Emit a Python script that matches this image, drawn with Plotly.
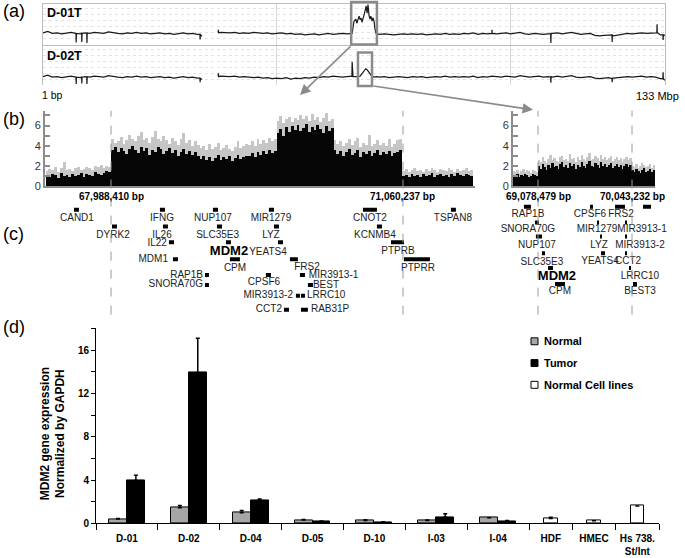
import plotly.graph_objects as go

W, H = 685, 558
FONT = "Arial, Liberation Sans, sans-serif"

# ---------------- (a) chromosome 12 copy-number tracks (Mbp, 1 Mbp steps) ----------------
T1_VALS = [2.3, 2.6, 2.2, 2.3, 2.1, 2.2, 2.4, 2.2, 2.1, 2.3,
           2.2, 2.4, 2.3, 2.2, 2.5, 2.3, 2.2, 2.1, 2.3, 2.2,
           2.4, 2.2, 2.3, 2.1, 2.2, 2.3, 2.1, 2.2, 2.0, 2.2,
           2.3, 2.1, 2.2, 2.0, 1.6, None, None, None, 2.4, 2.3,
           2.3, 2.4, 2.2, 2.3, 2.2, 2.4, 2.3, 2.2, 2.3, 2.1,
           2.2, 2.3, 2.1, 2.2, 2.0, 2.1, 1.9, 2.0, 2.1, 1.9,
           2.1, 2.2, 2.0, 2.1, 2.2, 2.1, 2.1, 2.1, 2.1, 2.1,
           2.1, 2.1, 2.0, 2.1, 2.0, 1.9, 2.0, 2.1, 2.0, 2.1,
           2.0, 2.1, 1.9, 2.0, 2.1, 2.0, 2.2, 2.0, 2.1, 2.0,
           2.2, 2.1, 2.3, 2.0, 2.2, 2.1, 2.4, 2.1, 2.2, 2.3,
           2.1, 2.2, 2.4, 2.1, 2.0, 2.2, 2.1, 2.0, 2.1, 2.2,
           2.3, 2.1, 2.2, 2.4, 2.2, 2.0, 2.1, 2.2, 1.8, 1.7,
           1.8, 1.9, 1.7, 1.9, 2.0, 2.2, 2.1, 2.2, 2.3, 2.2,
           2.3, 2.4, 1.9, 1.8]
T1_AMP_POS = [65.9, 66.1, 66.5, 66.9, 67.1, 67.35, 67.6, 67.8, 68.0, 68.2, 68.4, 68.65,
              68.85, 69.1, 69.3, 69.5, 69.7, 69.9, 70.1, 70.35, 70.55, 70.8, 71.0, 71.2, 71.5]
T1_AMP_VALS = [2.1, 2.2, 4.6, 5.0, 4.2, 4.8, 5.6, 4.9, 5.2, 4.4, 4.9, 5.8,
               6.6, 7.6, 6.2, 7.9, 5.8, 5.0, 5.6, 4.6, 5.3, 4.5, 3.0, 2.2, 2.1]
T1_SPIKE_POS = [7.05, 7.1, 7.15, 8.25, 8.3, 8.35, 9.35, 9.4, 9.45, 33.55, 33.6, 33.65,
                37.45, 37.5, 37.55, 95.95, 96.0, 96.05, 108.55, 108.6, 108.65, 121.65, 121.7, 121.75,
                131.25, 131.3, 131.35, 132.55, 132.6, 132.65]
T1_SPIKE_VALS = [2.2, 0.4, 2.2, 2.3, 0.5, 2.2, 2.2, 0.3, 2.3, 2.0, 1.0, 2.0,
                 2.4, 2.9, 2.3, 2.2, 2.9, 2.2, 2.1, 0.3, 2.2, 1.9, 0.5, 1.9,
                 2.3, 4.0, 2.4, 1.9, 0.9, 1.9]

T2_VALS = [1.7, 2.0, 1.6, 1.7, 1.5, 1.6, 1.8, 1.6, 1.5, 1.7,
           1.6, 1.8, 1.7, 1.6, 1.9, 1.7, 1.6, 1.5, 1.7, 1.6,
           1.8, 1.6, 1.7, 1.5, 1.6, 1.7, 1.5, 1.6, 1.4, 1.6,
           1.7, 1.5, 1.6, 1.4, 1.1, None, None, None, 1.8, 1.7,
           1.7, 1.8, 1.6, 1.7, 1.6, 1.5, 1.6, 1.4, 1.5, 1.3,
           1.4, 1.3, 1.5, 1.2, 1.4, 1.3, 1.5, 1.4, 1.6, 1.5,
           1.7, 1.6, 1.8, 1.7, 1.6, 1.7, 1.7, 1.7, 1.7, 1.7,
           1.7, 1.7, 1.6, 1.7, 1.5, 1.6, 1.7, 1.6, 1.5, 1.7,
           1.6, 1.7, 1.5, 1.6, 1.7, 1.6, 1.8, 1.6, 1.7, 1.6,
           1.7, 1.6, 1.8, 1.5, 1.7, 1.6, 1.8, 1.7, 1.6, 1.8,
           1.7, 1.6, 1.9, 1.7, 1.6, 1.7, 1.8, 1.6, 1.7, 1.6,
           1.8, 1.6, 1.7, 1.9, 1.6, 1.5, 1.6, 1.7, 1.4, 1.3,
           1.4, 1.5, 1.4, 1.5, 1.6, 1.7, 1.6, 1.7, 1.8, 1.6,
           1.7, 1.6, 1.3, 1.0]
T2_AMP_POS = [65.9, 66.05, 66.1, 66.15, 66.3, 67.0, 67.8, 68.3, 68.7, 69.0, 69.3, 69.6, 69.9, 70.3, 70.8, 71.3]
T2_AMP_VALS = [1.7, 1.8, 4.7, 1.8, 1.7, 1.7, 1.8, 2.4, 3.0, 3.3, 3.1, 2.7, 2.2, 1.8, 1.6, 1.7]
T2_SPIKE_POS = [7.05, 7.1, 7.15, 8.25, 8.3, 8.35, 9.35, 9.4, 9.45, 33.55, 33.6, 33.65,
                37.45, 37.5, 37.55, 108.55, 108.6, 108.65, 121.65, 121.7, 121.75, 132.55, 132.6, 132.65]
T2_SPIKE_VALS = [1.6, 0.2, 1.6, 1.7, 0.3, 1.6, 1.6, 0.2, 1.7, 1.4, 0.6, 1.4,
                 1.8, 2.4, 1.7, 1.6, 0.5, 1.7, 1.3, 0.6, 1.4, 1.3, 2.6, 1.2]

# ---------------- (b) zoomed copy number, binned ----------------
BL_START, BL_BIN = 67.30, 0.03
BL_BLACK = [1.0, 0.9, 1.2, 1.1, 0.8, 1.3, 1.0, 1.1, 0.9, 1.2, 1.0, 1.1, 1.3, 0.9, 1.2, 1.1, 1.0, 1.4, 1.2, 1.1, 1.3, 1.5, 1.4,
            3.6, 3.9, 3.4, 3.8, 3.5, 3.2, 3.7, 4.0, 3.6, 3.3, 3.9, 3.5, 3.8, 3.1, 3.6, 3.4, 3.9, 3.7, 3.2, 3.5, 3.8, 3.3, 3.6, 3.0, 3.4, 3.7, 3.2, 3.5, 3.1, 3.4, 3.0,
            2.7, 3.0, 2.6, 2.9, 2.5, 2.8, 3.1, 2.6, 2.9, 2.7, 3.0, 2.5, 2.8, 3.1, 2.7, 2.9, 3.0,
            3.0, 3.3, 2.9, 3.4, 3.1, 3.5, 3.2, 3.6, 3.3, 3.5,
            5.2, 5.6, 4.9, 5.8, 5.3, 5.9, 5.5, 6.0, 5.4, 5.7, 6.1, 5.3, 5.8, 5.5, 6.0, 5.6, 5.2, 5.9, 5.4, 5.7,
            3.6, 3.2, 3.5, 3.0, 3.4, 3.7, 3.1, 3.3, 3.6, 2.9, 3.4, 3.2, 3.5, 3.0, 3.3, 3.6, 3.1, 3.4, 3.2, 3.5, 3.0, 3.3, 3.4, 3.6,
            1.0, 1.1, 0.9, 1.2, 1.0, 1.1, 0.9, 1.2, 1.0, 1.1, 1.3, 0.9, 1.1, 1.2, 1.0, 1.1, 0.9, 1.2, 1.0, 1.3, 1.1, 1.0, 1.2, 1.1, 1.0]
BL_GRAY = [1.5, 1.7, 1.6, 1.9, 1.4, 1.8, 2.4, 1.6, 1.7, 1.5, 1.8, 1.9, 1.6, 1.7, 1.9, 1.8, 1.6, 2.0, 1.9, 2.1, 1.8, 2.0, 1.9,
           4.6, 4.3, 4.4, 4.8, 4.2, 4.5, 5.0, 4.6, 4.4, 4.9, 5.3, 4.5, 4.7, 4.3, 4.8, 5.4, 4.6, 4.4, 4.9, 4.5, 4.2, 4.7, 4.4, 4.1, 4.6, 5.2, 4.3, 4.5, 4.0, 4.4, 4.1,
           3.8, 4.0, 3.6, 4.2, 3.7, 3.9, 4.3, 3.6, 3.8, 4.1, 3.7, 3.5, 3.9, 4.4, 3.8, 4.0, 4.2,
           4.1, 4.4, 4.0, 4.6, 4.2, 4.5, 4.3, 4.7, 4.4, 4.6,
           6.4, 6.9, 6.2, 6.6, 6.8, 6.3, 6.7, 6.5, 7.0, 6.6, 6.9, 6.4, 7.1, 6.5, 6.8, 6.3, 6.7, 7.2, 6.4, 6.6,
           4.5, 4.2, 4.4, 4.0, 4.3, 4.6, 4.1, 4.4, 4.7, 3.9, 4.3, 4.1, 5.0, 4.0, 4.2, 4.5, 4.1, 4.3, 4.0, 4.6, 3.9, 4.2, 4.5, 4.6,
           1.5, 1.7, 1.4, 1.6, 1.8, 1.5, 1.6, 1.4, 1.7, 1.5, 1.8, 1.6, 1.4, 1.7, 1.6, 1.5, 1.8, 1.6, 1.4, 1.7, 1.5, 1.6, 1.8, 1.5, 1.6]

BR_START, BR_BIN = 68.82, 0.02
BR_BLACK = [1.1, 1.0, 1.2, 0.9, 1.1, 1.0, 1.2, 1.1, 0.9, 1.0, 1.2, 1.1, 1.0,
            2.0, 1.7, 2.2, 1.9, 1.6, 2.1, 1.8, 2.3, 1.9, 2.0, 1.7, 2.2, 2.4, 1.9, 2.1, 1.8, 2.3, 2.0, 2.2, 1.7, 2.1, 1.9, 2.4, 2.0,
            1.8, 2.2, 2.5, 2.0, 1.9, 2.3, 2.1, 1.8, 2.4, 2.0, 2.2, 1.9, 2.1, 2.3, 1.8, 2.0, 2.2, 1.9, 2.1, 1.7, 2.0, 2.2, 1.9, 2.1,
            1.6, 1.4, 1.7, 1.5, 1.3, 1.6, 1.8, 1.4, 1.5, 1.7, 1.4, 1.6]
BR_GRAY = [1.5, 1.4, 1.6, 1.3, 1.5, 1.7, 1.4, 1.6, 1.5, 1.3, 1.6, 1.5, 1.4,
           2.6, 2.4, 2.9, 2.5, 2.3, 2.7, 3.1, 2.6, 2.8, 2.5, 2.4, 2.9, 3.0, 2.6, 2.7, 2.5, 3.2, 2.7, 2.8, 2.4, 2.9, 2.6, 3.1, 2.7,
           2.5, 2.9, 3.3, 2.6, 2.7, 3.0, 2.8, 2.5, 3.1, 2.7, 2.9, 2.6, 2.8, 3.0, 2.5, 2.7, 2.9, 2.6, 2.8, 2.4, 2.7, 2.9, 2.6, 2.8,
           2.0, 1.9, 2.2, 1.8, 2.0, 2.3, 2.1, 1.9, 2.0, 2.2, 1.8, 2.1]

BL_MARKS = [67.988410, 71.060237]
BR_MARKS = [69.078479, 70.043232]
BL_MARK_TEXT = ["67,988,410 bp", "71,060,237 bp"]
BR_MARK_TEXT = ["69,078,479 bp", "70,043,232 bp"]

# ---------------- (c) genes (Mbp, as drawn) ----------------
CL_GENES = ["CAND1", "DYRK2", "IFNG", "IL26", "IL22", "MDM1", "NUP107", "SLC35E3", "MDM2", "CPM",
            "RAP1B", "SNORA70G", "MIR1279", "LYZ", "YEATS4", "FRS2", "CPSF6", "MIR3913-1", "BEST",
            "MIR3913-2", "LRRC10", "CCT2", "RAB31P", "CNOT2", "KCNMB4", "PTPRB", "PTPRR", "TSPAN8"]
CL_START = [67.599, 67.999, 68.503, 68.535, 68.598, 68.640, 69.061, 69.103, 69.198, 69.240,
            68.977, 68.977, 69.650, 69.703, 69.745, 69.871, 69.618, 69.976, 70.060,
            69.934, 69.987, 69.808, 69.987, 70.639, 70.786, 70.934, 71.071, 71.565]
CL_END = [67.651, 68.051, 68.556, 68.588, 68.651, 68.693, 69.114, 69.156, 69.250, 69.345,
          69.019, 69.019, 69.703, 69.755, 69.798, 69.955, 69.671, 70.029, 70.113,
          69.976, 70.029, 69.861, 70.060, 70.786, 70.839, 71.071, 71.344, 71.617]

CR_GENES = ["RAP1B", "SNORA70G", "NUP107", "SLC35E3", "MDM2", "CPM", "CPSF6", "FRS2", "RAB31P",
            "MIR1279", "MIR3913-1", "LYZ", "MIR3913-2", "YEATS4", "CCT2", "LRRC10", "BEST3"]
CR_START = [68.934, 69.047, 69.057, 69.119, 69.181, 69.253, 69.612, 69.869, 70.156,
            69.684, 69.971, 69.715, 69.971, 69.725, 69.971, 70.012, 70.053]
CR_END = [69.006, 69.088, 69.119, 69.150, 69.232, 69.355, 69.643, 69.971, 70.238,
          69.705, 69.992, 69.735, 69.992, 69.766, 69.992, 70.033, 70.094]

# layout of gene rows / labels (pixel rows, label x in Mbp, anchor c/l/r)
CL_ROW = [212, 229, 212, 229, 245, 262, 212, 229, 245, 262, 278, 288, 212, 229, 245, 262, 278, 278, 288,
          299, 299, 313, 313, 212, 229, 245, 262, 212]
CL_LAB_X = [67.63, 68.01, 68.525, 68.525, 68.577, 68.588, 69.06, 69.11, 69.23, 69.293, 68.956, 68.956,
            69.671, 69.671, 69.64, 70.05, 69.598, 70.07, 70.113, 69.903, 70.05, 69.787, 70.092,
            70.713, 70.765, 71.007, 71.218, 71.586]
CL_LAB_Y = [221, 238, 221, 238, 246, 262, 221, 238, 255, 271, 278, 288, 221, 238, 255, 270, 286, 279, 289,
            299, 299, 313, 313, 221, 238, 254, 271, 221]
CL_ANCHOR = ["c", "c", "c", "c", "r", "r", "c", "c", "c", "c", "r", "r", "c", "c", "c", "c", "c", "l", "l",
             "r", "l", "r", "l", "c", "c", "c", "c", "c"]

CR_ROW = [209, 225, 239, 256, 271, 287, 209, 209, 209, 225, 225, 239, 239, 256, 256, 271, 287]
CR_LAB_X = [68.975, 68.975, 69.068, 69.119, 69.273, 69.304, 69.612, 69.93, 70.30,
            69.684, 70.146, 69.704, 70.125, 69.715, 70.002, 70.125, 70.125]
CR_LAB_Y = [217, 232, 248, 265, 280, 295, 217, 217, 217, 232, 232, 248, 248, 264, 264, 280, 295]

# ---------------- (d) MDM2 expression ----------------
GROUPS = ["D-01", "D-02", "D-04", "D-05", "D-10", "I-03", "I-04", "HDF", "HMEC", "Hs 738.<br>St/Int"]
NORMAL = [0.39, 1.43, 0.97, 0.30, 0.25, 0.27, 0.52]
NORMAL_ERR = [0.06, 0.22, 0.22, 0.06, 0.08, 0.04, 0.0]
TUMOR = [3.96, 13.9, 2.13, 0.18, 0.12, 0.55, 0.21]
TUMOR_ERR = [0.49, 3.2, 0.12, 0.04, 0.03, 0.34, 0.04]
CELL = [0.45, 0.24, 1.61]
CELL_ERR = [0.10, 0.0, 0.0]
GROUP_W = [1, 1, 1, 1, 1, 1, 1, 0.7, 0.7, 0.7]


def dx(a, b):
    return [a / W, b / W]


def dy(top, bottom):
    return [1 - bottom / H, 1 - top / H]


def track(vals, amp_pos, amp_vals, spk_pos, spk_vals):
    pts = [(float(p), v) for p, v in enumerate(vals) if not (66 <= p <= 71)]
    pts += list(zip(amp_pos, amp_vals)) + list(zip(spk_pos, spk_vals))
    pts.sort(key=lambda t: t[0])
    return [p for p, _ in pts], [v for _, v in pts]


fig = go.Figure()

# (a)
for i, (vals, ap, av, sp, sv) in enumerate([(T1_VALS, T1_AMP_POS, T1_AMP_VALS, T1_SPIKE_POS, T1_SPIKE_VALS),
                                            (T2_VALS, T2_AMP_POS, T2_AMP_VALS, T2_SPIKE_POS, T2_SPIKE_VALS)]):
    xs, ys = track(vals, ap, av, sp, sv)
    fig.add_trace(go.Scatter(x=xs, y=ys, mode="lines", line=dict(color="#1a1a1a", width=1.2),
                             xaxis="x", yaxis="y" if i == 0 else "y2", showlegend=False))

# (b)
for start, bw, black, gray, xa, ya in [(BL_START, BL_BIN, BL_BLACK, BL_GRAY, "x3", "y3"),
                                       (BR_START, BR_BIN, BR_BLACK, BR_GRAY, "x4", "y4")]:
    xc = [start + (i + 0.5) * bw for i in range(len(black))]
    fig.add_trace(go.Bar(x=xc, y=gray, width=bw, marker=dict(color="#c6c6c6", line_width=0),
                         xaxis=xa, yaxis=ya, showlegend=False))
    fig.add_trace(go.Bar(x=xc, y=black, width=bw, marker=dict(color="#050505", line_width=0),
                         xaxis=xa, yaxis=ya, showlegend=False))


# (c)
def gene_traces(names, starts, ends, rows, lab_x, lab_y, anchors, xa, ya):
    gx, gy = [], []
    for s, e, r in zip(starts, ends, rows):
        gx += [s, e, None]
        gy += [r, r, None]
    fig.add_trace(go.Scatter(x=gx, y=gy, mode="lines", line=dict(color="#000", width=4),
                             xaxis=xa, yaxis=ya, showlegend=False))
    pos = {"c": "middle center", "l": "middle right", "r": "middle left"}
    for a in "clr":
        idx = [k for k in range(len(names)) if anchors[k] == a and names[k] != "MDM2"]
        if not idx:
            continue
        fig.add_trace(go.Scatter(x=[lab_x[k] for k in idx], y=[lab_y[k] for k in idx],
                                 text=[names[k] for k in idx], mode="text", textposition=pos[a],
                                 textfont=dict(family=FONT, size=10, color="#222"), cliponaxis=False,
                                 xaxis=xa, yaxis=ya, showlegend=False))
    k = names.index("MDM2")
    fig.add_trace(go.Scatter(x=[lab_x[k]], y=[lab_y[k]], text=["MDM2"], mode="text",
                             textfont=dict(family=FONT, size=13, color="#000", weight="bold"),
                             cliponaxis=False, xaxis=xa, yaxis=ya, showlegend=False))


gene_traces(CL_GENES, CL_START, CL_END, CL_ROW, CL_LAB_X, CL_LAB_Y, CL_ANCHOR, "x5", "y5")
gene_traces(CR_GENES, CR_START, CR_END, CR_ROW, CR_LAB_X, CR_LAB_Y, ["c"] * len(CR_GENES), "x6", "y6")

# (d)
bounds = [0]
for w in GROUP_W:
    bounds.append(bounds[-1] + w)
centers = [(bounds[i] + bounds[i + 1]) / 2 for i in range(len(GROUP_W))]
bw = 0.29
fig.add_trace(go.Bar(x=[c - bw / 2 for c in centers[:7]], y=NORMAL, width=bw,
                     marker=dict(color="#a6a6a6", line=dict(color="#000", width=1)),
                     error_y=dict(type="data", array=NORMAL_ERR, symmetric=False, arrayminus=[0] * 7,
                                  color="#000", thickness=1.5, width=2),
                     xaxis="x7", yaxis="y7", showlegend=False))
fig.add_trace(go.Bar(x=[c + bw / 2 for c in centers[:7]], y=TUMOR, width=bw,
                     marker=dict(color="#000", line=dict(color="#000", width=1)),
                     error_y=dict(type="data", array=TUMOR_ERR, symmetric=False, arrayminus=[0] * 7,
                                  color="#000", thickness=1.5, width=2),
                     xaxis="x7", yaxis="y7", showlegend=False))
fig.add_trace(go.Bar(x=centers[7:], y=CELL, width=0.22,
                     marker=dict(color="#fff", line=dict(color="#000", width=1)),
                     error_y=dict(type="data", array=CELL_ERR, symmetric=False, arrayminus=[0] * 3,
                                  color="#000", thickness=1.5, width=2),
                     xaxis="x7", yaxis="y7", showlegend=False))

hidden = dict(showgrid=False, zeroline=False, showticklabels=False, ticks="", showline=False)
track_x = dict(range=[0, 133], domain=dx(43, 665), showticklabels=False, ticks="", zeroline=False,
               tickvals=[50, 100], showgrid=True, gridcolor="#d8d8d8", gridwidth=1,
               showline=True, mirror=True, linecolor="#bdbdbd")
track_y = dict(range=[0, 8], showticklabels=False, ticks="", zeroline=False, dtick=1.2,
               showgrid=True, gridcolor="#e3e3e3", griddash="dot",
               showline=True, mirror=True, linecolor="#bdbdbd")
b_y = dict(range=[0, 7.4], domain=dy(112.5, 188.5), tickvals=list(range(8)),
           ticktext=["0", "", "2", "", "4", "", "6", ""], ticks="inside", ticklen=5, tickcolor="#8c8c8c",
           tickwidth=1.5, showline=True, linecolor="#8c8c8c", linewidth=2, showgrid=False, zeroline=False,
           tickfont=dict(family=FONT, size=11, color="#333"))
b_x = dict(showticklabels=False, ticks="", showgrid=False, zeroline=False,
           showline=True, linecolor="#8c8c8c", linewidth=2)

bold10 = dict(family=FONT, size=10, color="#000", weight="bold")
fig.update_layout(
    width=W, height=H, margin=dict(l=0, r=0, t=0, b=0),
    paper_bgcolor="white", plot_bgcolor="white", barmode="overlay", bargap=0,
    font=dict(family=FONT, color="#000"),
    xaxis=dict(track_x, anchor="y"),
    yaxis=dict(track_y, domain=dy(4, 45), anchor="x"),
    yaxis2=dict(track_y, domain=dy(46, 86), anchor="x"),
    xaxis3=dict(b_x, range=[67.294, 71.818], domain=dx(45, 475), anchor="y3"),
    yaxis3=dict(b_y, anchor="x3"),
    xaxis4=dict(b_x, range=[68.822, 70.279], domain=dx(513, 655), anchor="y4"),
    yaxis4=dict(b_y, anchor="x4"),
    xaxis5=dict(hidden, range=[67.294, 71.818], domain=dx(45, 475), anchor="y5"),
    yaxis5=dict(hidden, range=[330, 195], domain=dy(195, 330), anchor="x5"),
    xaxis6=dict(hidden, range=[68.822, 70.279], domain=dx(513, 655), anchor="y6"),
    yaxis6=dict(hidden, range=[330, 195], domain=dy(195, 330), anchor="x6"),
    xaxis7=dict(range=[0, bounds[-1]], domain=dx(96, 659), anchor="y7", tickvals=centers, ticktext=GROUPS,
                ticks="", ticklabelstandoff=6, showline=True, linecolor="#000", linewidth=1,
                showgrid=False, zeroline=False, tickfont=bold10),
    xaxis8=dict(range=[0, bounds[-1]], domain=dx(96, 659), anchor="y7", overlaying="x7", tickvals=bounds,
                ticks="outside", ticklen=6, tickcolor="#000", showticklabels=False, showgrid=False,
                zeroline=False, showline=False),
    yaxis7=dict(range=[0, 18], domain=dy(332, 529), anchor="x7", tickvals=list(range(0, 19, 2)),
                ticktext=["0", "", "4", "", "8", "", "12", "", "16", ""], ticks="outside", ticklen=4,
                tickcolor="#000", showline=True, linecolor="#000", linewidth=1, showgrid=False,
                zeroline=False, tickfont=bold10),
)

# keep the overlay tick axis alive with an empty trace
fig.add_trace(go.Scatter(x=[None], y=[None], xaxis="x8", yaxis="y7", showlegend=False))

shapes = []
# zoom boxes in (a)
shapes.append(dict(type="rect", xref="x", yref="paper", x0=65.9, x1=71.4, y0=1 - 45 / H, y1=1 - 2 / H,
                   line=dict(color="#8a8a8a", width=2.5)))
shapes.append(dict(type="rect", xref="x", yref="paper", x0=67.35, x1=70.35, y0=1 - 87 / H, y1=1 - 53 / H,
                   line=dict(color="#8a8a8a", width=2.5)))
# dashed boundary lines through (b) and (c)
for marks, xa in [(BL_MARKS, "x3"), (BR_MARKS, "x4")]:
    for m in marks:
        shapes.append(dict(type="line", xref=xa, yref="paper", x0=m, x1=m, y0=1 - 318 / H, y1=1 - 112 / H,
                           line=dict(color="#9a9a9a", width=1, dash="dash")))
# legend swatches for (d)
for yc, col in [(345, "#a6a6a6"), (367, "#000"), (389, "#fff")]:
    shapes.append(dict(type="rect", xref="paper", yref="paper", x0=531 / W, x1=538 / W,
                       y0=1 - (yc + 3.5) / H, y1=1 - (yc - 3.5) / H, line=dict(color="#000", width=1),
                       fillcolor=col))
fig.update_layout(shapes=shapes)

ann = []


def label(x, y, text, size, anchor="left", weight="normal", color="#000"):
    ann.append(dict(x=x / W, y=1 - y / H, xref="paper", yref="paper", text=text, showarrow=False,
                    xanchor=anchor, yanchor="middle", font=dict(family=FONT, size=size, color=color,
                                                                 weight=weight)))


for t, yy in [("(a)", 11), ("(b)", 120), ("(c)", 237), ("(d)", 331)]:
    label(1, yy, t, 18)
label(45, 13, "D-01T", 12.5, weight="bold")
label(45, 57, "D-02T", 12.5, weight="bold")
label(40, 96, "1 bp", 10.5)
label(681, 97, "133 Mbp", 11, anchor="right")
for marks, texts, xa in [(BL_MARKS, BL_MARK_TEXT, "x3"), (BR_MARKS, BR_MARK_TEXT, "x4")]:
    for m, t in zip(marks, texts):
        ann.append(dict(x=m, y=1 - 199 / H, xref=xa, yref="paper", text=t, showarrow=False,
                        xanchor="center", yanchor="middle", font=bold10))
for yy, t in [(345, "Normal"), (367, "Tumor"), (389, "Normal Cell lines")]:
    label(542, yy, t, 11, weight="bold")
ann.append(dict(x=53 / W, y=1 - 439 / H, xref="paper", yref="paper", textangle=-90, showarrow=False,
                xanchor="center", yanchor="middle",
                text="MDM2 gene expression<br>Normalized by GAPDH",
                font=dict(family=FONT, size=12, color="#000", weight="bold")))
# arrows from zoom boxes
for hx, hy, tx, ty in [(300, 96, 352, 46), (533, 111, 372, 87)]:
    ann.append(dict(x=hx / W, y=1 - hy / H, xref="paper", yref="paper", ax=tx - hx, ay=ty - hy,
                    axref="pixel", ayref="pixel", text="", showarrow=True, arrowhead=2, arrowsize=1.3,
                    arrowwidth=1.6, arrowcolor="#8a8a8a", standoff=0, startstandoff=0))
fig.update_layout(annotations=ann)

# page margin off so the 685x558 figure fills the window
fig.write_html("out.html", config={"displayModeBar": False},
               post_script="document.body.style.margin='0px';")
